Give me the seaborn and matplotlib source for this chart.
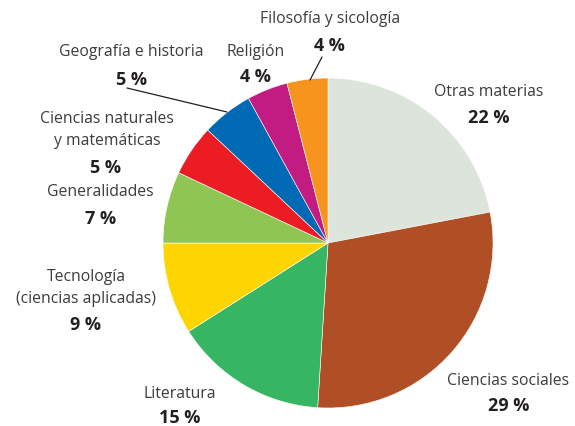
import matplotlib
matplotlib.use("Agg")
import matplotlib.pyplot as plt
import seaborn as sns

# Distribution of books by subject (percent), clockwise from the top
subjects = ["Otras materias", "Ciencias sociales", "Literatura",
            "Tecnología\n(ciencias aplicadas)", "Generalidades",
            "Ciencias naturales\ny matemáticas", "Geografía e historia",
            "Religión", "Filosofía y sicología"]
shares = [22, 29, 15, 9, 7, 5, 5, 4, 4]
colors = ["#dce4dc", "#b04f25", "#36b562", "#fed500", "#8fc653",
          "#ec1c24", "#0069b4", "#c21b82", "#f7941d"]

sns.set_theme(style="white")
plt.rcParams['font.family'] = ['Open Sans', 'DejaVu Sans']

W, H = 575, 426
fig = plt.figure(figsize=(W / 100, H / 100), dpi=100)
ax = fig.add_axes([0, 0, 1, 1])

cx, cy, r = 328, 243, 165
ax.pie(shares, colors=colors, startangle=90, counterclock=False,
       center=(cx, H - cy), radius=r, frame=True,
       wedgeprops=dict(linewidth=0.4, edgecolor="white"))
ax.set_xlim(0, W)
ax.set_ylim(0, H)
ax.set_aspect("equal")
ax.axis("off")

# label anchor points (pixel coords, y from top) for name and value
label_pos = [(489, 92), (508, 381), (180, 394), (86, 288), (100, 192),
             (107, 130), (131, 52), (256, 52), (330, 19)]
value_pos = [(489, 118), (509, 406), (180, 418), (86, 325), (101, 219),
             (106, 168), (131, 80), (255, 77), (329, 46)]

for name, val, (lx, ly), (vx, vy) in zip(subjects, shares, label_pos, value_pos):
    ax.text(lx, H - ly, name, ha="center", va="center", fontsize=11.3,
            color="#3c3c3c", linespacing=1.45)
    ax.text(vx, H - vy, f"{val} %", ha="center", va="center", fontsize=13,
            fontweight="bold", color="#231f20")

# leader lines for the two small top slices
ax.plot([127, 227], [H - 88, H - 112], color="#231f20", lw=0.9)
ax.plot([322, 310], [H - 57, H - 80], color="#231f20", lw=0.9)

fig.savefig("out.png", dpi=100)
